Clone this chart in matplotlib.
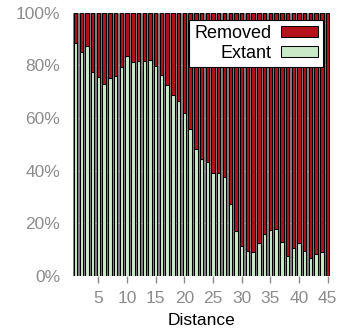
import numpy as np
import matplotlib
matplotlib.use('Agg')
import matplotlib.pyplot as plt
from matplotlib.ticker import PercentFormatter

plt.rcParams['font.family'] = ['Liberation Sans', 'DejaVu Sans']

# share of extant items per distance (percent), removed is the rest
distance = np.arange(1, 46)
extant = [88.3, 85.1, 87.3, 77.4, 75.6, 72.9, 75.3, 75.8, 79.3, 83.7,
          81.2, 81.6, 81.8, 82.2, 79.6, 76.2, 72.7, 68.6, 66.4, 62.0,
          56.0, 48.4, 44.5, 43.4, 39.1, 39.0, 37.6, 27.3, 17.0, 11.4,
          9.5, 9.2, 12.6, 15.8, 17.6, 17.8, 12.8, 7.8, 10.8, 12.5,
          9.5, 6.8, 8.5, 9.2, 0.0]
removed = [100 - v for v in extant]

red = '#b3121c'
green = '#c8eac6'
grey_txt = '#8c8c8c'

fig = plt.figure(figsize=(3.38, 3.33), dpi=100)
ax = fig.add_axes([0.215, 0.171, 0.762, 0.791])
ax.set_facecolor('#808080')

w = 0.6
ax.bar(distance, extant, width=w, color=green, edgecolor='black', linewidth=0.75,
       label='Extant', zorder=2)
ax.bar(distance, removed, bottom=extant, width=w, color=red, edgecolor='black',
       linewidth=0.75, label='Removed', zorder=2)

ax.set_xlim(0.5, 45.45)
ax.set_ylim(0, 100)
ax.yaxis.grid(True, color='#9a9a9a', linewidth=0.8, zorder=1)
ax.set_axisbelow(True)
for s in ax.spines.values():
    s.set_visible(False)

ax.set_xticks(range(5, 46, 5))
ax.set_yticks(range(0, 101, 20))
ax.yaxis.set_major_formatter(PercentFormatter(decimals=0))
ax.tick_params(axis='y', length=0, pad=9, labelsize=12.5, labelcolor=grey_txt)
ax.tick_params(axis='x', length=5, width=1, color=grey_txt, pad=5.5,
               labelsize=12.5, labelcolor=grey_txt)
ax.set_xlabel('Distance', fontsize=12.5, labelpad=5)

h, l = ax.get_legend_handles_labels()
leg = ax.legend(h[::-1], l[::-1], loc='upper right', markerfirst=False,
                fontsize=13, frameon=True, fancybox=False, framealpha=1,
                edgecolor='black', borderpad=0.3, labelspacing=0.15,
                handlelength=2.0, handleheight=0.55, handletextpad=0.55,
                borderaxespad=0.4)
leg.get_frame().set_linewidth(0.8)

fig.savefig('out.png', dpi=100)
